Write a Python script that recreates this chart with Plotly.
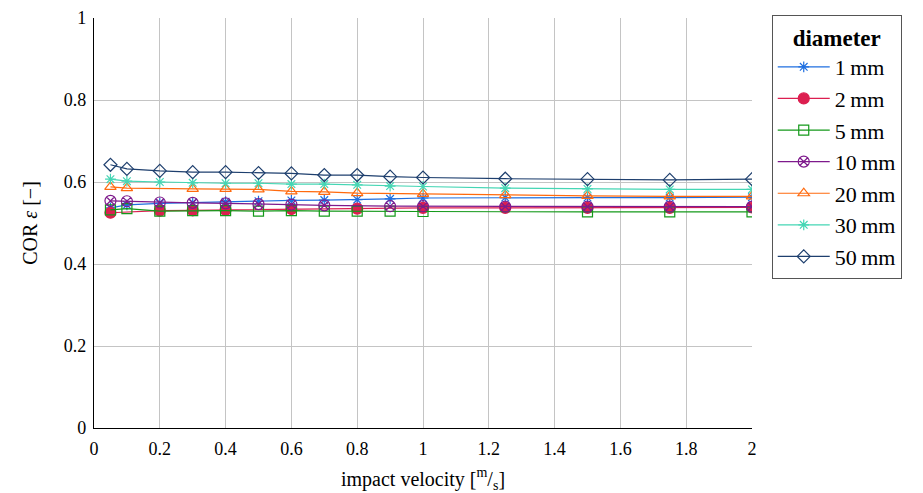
import plotly.graph_objects as go

x_all = [0.05, 0.1, 0.2, 0.3, 0.4, 0.5, 0.6, 0.7, 0.8, 0.9, 1.0, 1.25, 1.5, 1.75, 2.0]

d1_x = x_all
d1_y = [0.537, 0.544, 0.548, 0.550, 0.552, 0.553, 0.555, 0.556, 0.557, 0.559, 0.561, 0.562, 0.562, 0.562, 0.563]

d2_x = [0.05, 0.2, 0.3, 0.4, 0.6, 0.8, 1.0, 1.25, 1.5, 1.75, 2.0]
d2_y = [0.525, 0.530, 0.531, 0.532, 0.534, 0.535, 0.537, 0.537, 0.537, 0.537, 0.538]

d5_x = [0.05, 0.1, 0.2, 0.3, 0.4, 0.5, 0.6, 0.7, 0.8, 0.9, 1.0, 1.5, 1.75, 2.0]
d5_y = [0.532, 0.535, 0.529, 0.530, 0.530, 0.529, 0.530, 0.529, 0.529, 0.529, 0.528, 0.527, 0.527, 0.527]

d10_x = [0.05, 0.1, 0.2, 0.3, 0.4, 0.5, 0.6, 0.7, 0.9, 1.0, 1.25, 1.5, 1.75, 2.0]
d10_y = [0.554, 0.553, 0.550, 0.549, 0.548, 0.546, 0.545, 0.543, 0.541, 0.541, 0.540, 0.540, 0.540, 0.540]

d20_x = [0.05, 0.1, 0.3, 0.4, 0.5, 0.6, 0.7, 0.8, 1.0, 1.25, 1.5, 1.75, 2.0]
d20_y = [0.588, 0.585, 0.583, 0.583, 0.582, 0.577, 0.576, 0.573, 0.571, 0.568, 0.566, 0.565, 0.565]

d30_x = x_all
d30_y = [0.607, 0.602, 0.600, 0.598, 0.597, 0.597, 0.595, 0.595, 0.593, 0.590, 0.589, 0.585, 0.583, 0.582, 0.582]

d50_x = x_all
d50_y = [0.642, 0.632, 0.627, 0.624, 0.624, 0.622, 0.621, 0.617, 0.617, 0.613, 0.611, 0.608, 0.607, 0.605, 0.607]

names = ["1\u2009mm", "2\u2009mm", "5\u2009mm", "10\u2009mm", "20\u2009mm", "30\u2009mm", "50\u2009mm"]
xs = [d1_x, d2_x, d5_x, d10_x, d20_x, d30_x, d50_x]
ys = [d1_y, d2_y, d5_y, d10_y, d20_y, d30_y, d50_y]
colors = ["#1f6fe0", "#dc1f50", "#14991a", "#7e1a8c", "#ff6a0e", "#45d6b4", "#1e3f6e"]
symbols = ["asterisk-open", "circle", "square-open", "circle-x-open", "triangle-up-open", "asterisk-open", "diamond-open"]
sizes = [9, 11, 10, 11, 10, 9, 10]

FONT = "Liberation Serif"

fig = go.Figure()
for n, x, y, c, s, sz in zip(names, xs, ys, colors, symbols, sizes):
    fig.add_trace(go.Scatter(
        x=x, y=y, name=n, mode="lines+markers",
        line=dict(color=c, width=1.2),
        marker=dict(symbol=s, size=sz, color=c, line=dict(color=c, width=1.2)),
    ))

fig.update_layout(
    width=923, height=493,
    margin=dict(l=94, r=171, t=18, b=65),
    plot_bgcolor="white", paper_bgcolor="white",
    font=dict(family=FONT, size=18, color="black"),
    legend=dict(
        title=dict(text="<b>diameter</b>", font=dict(family=FONT, size=23), side="top center"),
        x=1.03, y=1.007, xanchor="left", yanchor="top",
        bordercolor="#555555", borderwidth=1,
        font=dict(family=FONT, size=22),
        itemwidth=52, tracegroupgap=0, maxheight=470,
    ),
    xaxis=dict(
        range=[0, 2], tickvals=[0, 0.2, 0.4, 0.6, 0.8, 1, 1.2, 1.4, 1.6, 1.8, 2],
        ticktext=["0", "0.2", "0.4", "0.6", "0.8", "1", "1.2", "1.4", "1.6", "1.8", "2"],
        showgrid=True, gridcolor="#c4c4c4", gridwidth=1,
        showline=True, linecolor="black", linewidth=1.3, mirror=False,
        zeroline=False, ticks="", automargin=False, ticklabelstandoff=4,
        title=dict(text="impact velocity [<sup>m</sup>/<sub>s</sub>]", font=dict(size=20), standoff=18),
        tickfont=dict(size=18),
    ),
    yaxis=dict(
        range=[0, 1], tickvals=[0, 0.2, 0.4, 0.6, 0.8, 1],
        ticktext=["0", "0.2", "0.4", "0.6", "0.8", "1"],
        showgrid=True, gridcolor="#c4c4c4", gridwidth=1,
        showline=True, linecolor="black", linewidth=1.3,
        zeroline=False, ticks="", automargin=False, ticklabelstandoff=3,
        title=dict(text="COR <i>ε</i> [−]", font=dict(size=20), standoff=20),
        tickfont=dict(size=18),
    ),
)

fig.write_html("out.html")
